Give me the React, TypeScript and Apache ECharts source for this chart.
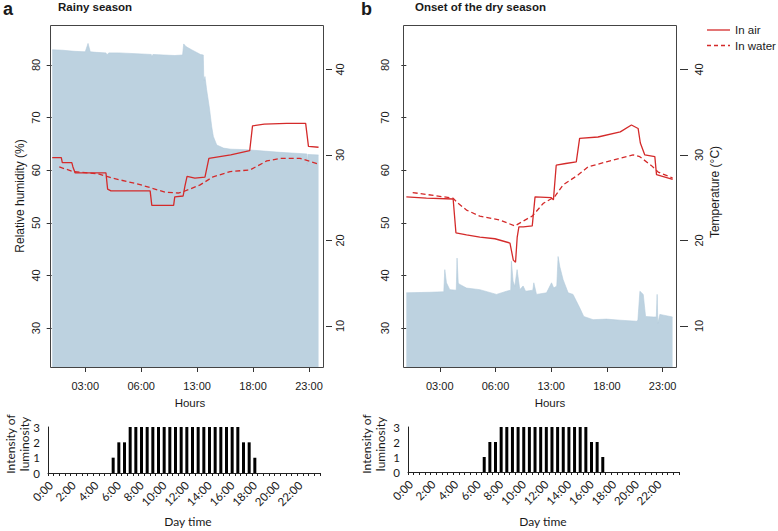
import React, { useEffect, useRef } from 'react';
import * as echarts from 'echarts';

// ---------- data ----------
const hourTicks = [3, 8, 13, 18, 23];
const hourTickLabels = ['03:00', '06:00', '13:00', '18:00', '23:00'];
const rhTicks = [30, 40, 50, 60, 70, 80];
const tempTicks = [10, 20, 30, 40];

// Panel a (rainy season): [hour, value]
const humA: [number, number][] = [
  [0.05, 82.9], [1, 82.8], [2, 82.6], [3.0, 82.5], [3.25, 84.1], [3.45, 82.5], [4, 82.4],
  [4.85, 82.3], [4.95, 81.9], [5.1, 82.3], [6, 82.3], [7, 82.2], [8, 82.1], [8.9, 82.0],
  [8.95, 81.5], [9.05, 82.0], [10, 81.9], [11, 81.8], [11.7, 81.9], [11.8, 84.0], [12.0, 83.5],
  [12.5, 82.9], [13.3, 82.0], [13.55, 81.9], [13.6, 77.0], [13.7, 77.8], [13.85, 75.3],
  [14.1, 71.8], [14.3, 68.3], [14.45, 66.4], [14.75, 64.8], [15.35, 64.2], [16, 64.0],
  [17.4, 63.9], [18, 63.8], [20.4, 63.4], [22.8, 63.1], [22.85, 61.0], [22.9, 63.0], [23.85, 62.9],
];
const airA: [number, number][] = [
  [0.05, 29.7], [0.86, 29.7], [0.95, 29.1], [1.8, 29.1], [1.9, 28.6], [2.1, 27.9], [4.85, 27.9],
  [5.0, 26.0], [5.3, 25.8], [8.8, 25.8], [8.95, 24.1], [10.9, 24.1], [11.0, 25.1], [11.75, 25.2],
  [11.9, 26.3], [12.1, 27.5], [12.8, 27.3], [13.7, 27.4], [14.05, 29.6], [16, 30.0], [17.7, 30.5],
  [17.95, 33.4], [19, 33.6], [21, 33.7], [22.7, 33.7], [22.95, 31.0], [23.85, 30.9],
];
const waterA: [number, number][] = [
  [0.68, 28.6], [1.93, 28.05], [4.16, 27.8], [5.38, 27.3], [7.73, 26.6], [10.14, 25.65],
  [11.3, 25.55], [11.75, 25.7], [13.27, 26.5], [14.43, 27.45], [15.95, 28.05], [17.73, 28.25],
  [19.22, 29.3], [20.41, 29.6], [22.2, 29.6], [23.83, 28.95],
];

// Panel b (onset of the dry season)
const humB: [number, number][] = [
  [0.0, 36.7], [2.1, 36.8], [3.36, 36.9], [3.45, 41.1], [3.6, 38.6], [3.9, 37.3], [4.48, 37.2],
  [4.55, 43.3], [4.66, 38.5], [4.8, 38.3], [5.4, 37.6], [6.59, 37.3], [8.09, 36.4], [8.99, 37.0],
  [9.37, 37.2], [9.43, 42.7], [9.58, 38.9], [9.73, 37.9], [9.94, 41.1], [10.18, 37.3], [10.48, 38.0],
  [10.7, 37.0], [11.35, 37.2], [11.44, 38.6], [11.68, 36.4], [12.58, 36.7], [13.03, 38.6],
  [13.23, 37.6], [13.5, 38.0], [13.62, 43.6], [13.77, 41.7], [14.07, 39.2], [14.52, 36.7],
  [14.96, 36.4], [15.57, 33.8], [15.92, 32.2], [16.76, 31.6], [17.96, 31.7], [19.16, 31.5],
  [20.66, 31.3], [20.78, 31.5], [20.96, 37.0], [21.26, 36.4], [21.47, 32.2], [22.15, 32.1],
  [22.43, 32.1], [22.51, 36.4], [22.57, 30.9], [22.75, 32.6], [23.89, 32.1],
];
const airB: [number, number][] = [
  [0.0, 25.1], [1.8, 24.95], [4.2, 24.85], [4.45, 20.9], [5.4, 20.65], [6.6, 20.4], [7.95, 20.2],
  [9.3, 19.7], [9.6, 17.7], [9.8, 17.45], [9.95, 20.4], [10.1, 21.6], [10.5, 21.6], [11.3, 21.7],
  [11.55, 25.1], [13.0, 25.0], [13.2, 24.75], [13.45, 28.8], [14.3, 29.0], [15.25, 29.2],
  [15.55, 31.95], [17.2, 32.1], [19.2, 32.7], [20.2, 33.5], [20.8, 33.1], [21.0, 31.4], [21.4, 30.0],
  [22.3, 29.8], [22.45, 27.7], [23.9, 27.15],
];
const waterB: [number, number][] = [
  [0.57, 25.6], [4.19, 24.95], [4.64, 24.35], [5.4, 23.55], [6.59, 22.85], [8.38, 22.4],
  [9.73, 21.7], [10.8, 22.5], [11.3, 22.85], [12.3, 24.35], [13.3, 25.1], [14.07, 26.5],
  [15.4, 27.65], [16.3, 28.6], [17.96, 29.2], [19.16, 29.6], [20.35, 30.0], [20.95, 29.8],
  [22.0, 28.75], [22.6, 28.0], [23.9, 27.3],
];

// Luminosity (half-hour classes)
const dayTimes = [
  '0:00', '0:30', '1:00', '1:30', '2:00', '2:30', '3:00', '3:30', '4:00', '4:30', '5:00', '5:30',
  '6:00', '6:30', '7:00', '7:30', '8:00', '8:30', '9:00', '9:30', '10:00', '10:30', '11:00', '11:30',
  '12:00', '12:30', '13:00', '13:30', '14:00', '14:30', '15:00', '15:30', '16:00', '16:30', '17:00', '17:30',
  '18:00', '18:30', '19:00', '19:30', '20:00', '20:30', '21:00', '21:30', '22:00', '22:30', '23:00', '23:30',
];
const lightA = [
  0, 0, 0, 0, 0, 0, 0, 0, 0, 0, 0, 1,
  2, 2, 3, 3, 3, 3, 3, 3, 3, 3, 3, 3,
  3, 3, 3, 3, 3, 3, 3, 3, 3, 3, 2, 2,
  1, 0, 0, 0, 0, 0, 0, 0, 0, 0, 0, 0,
];
const lightB = [
  0, 0, 0, 0, 0, 0, 0, 0, 0, 0, 0, 0,
  0, 1, 2, 2, 3, 3, 3, 3, 3, 3, 3, 3,
  3, 3, 3, 3, 3, 3, 3, 3, 2, 2, 1, 0,
  0, 0, 0, 0, 0, 0, 0, 0, 0, 0, 0, 0,
];

// ---------- styling ----------
const FONT = '"Liberation Sans", Arial, sans-serif';
const FONT2 = 'Lato, "Open Sans", sans-serif';
const RED = '#d42a2a';
const BLUE = '#bdd2e0';
const AX = '#333';
const TXT = '#1a1a1a';

const topX = (gridIndex: number, min: number, max: number) => ({
  type: 'value',
  gridIndex,
  min,
  max,
  axisLine: { show: false },
  splitLine: { show: false },
  axisTick: { show: true, customValues: hourTicks, length: 5, lineStyle: { color: AX } },
  axisLabel: {
    customValues: hourTicks,
    formatter: (v: number) => hourTickLabels[hourTicks.indexOf(v)] ?? '',
    fontSize: 11,
    color: TXT,
    fontFamily: FONT,
    margin: 13,
  },
});

const rhY = (gridIndex: number, margin: number) => ({
  type: 'value',
  gridIndex,
  position: 'left',
  min: 22.6,
  max: 87.6,
  splitLine: { show: false },
  axisLine: { show: false },
  axisTick: { show: true, customValues: rhTicks, length: 5, lineStyle: { color: AX } },
  axisLabel: { customValues: rhTicks, rotate: 90, margin, fontSize: 11, color: TXT, fontFamily: FONT },
});

const tY = (gridIndex: number, offset: number, len: number, margin: number) => ({
  type: 'value',
  gridIndex,
  position: 'right',
  offset,
  min: 5.2,
  max: 45.2,
  splitLine: { show: false },
  axisLine: { show: false },
  axisTick: { show: true, customValues: tempTicks, length: len, lineStyle: { color: AX } },
  axisLabel: { customValues: tempTicks, rotate: 90, margin, fontSize: 11, color: TXT, fontFamily: FONT },
});

const botX = (gridIndex: number) => ({
  type: 'category',
  gridIndex,
  data: dayTimes,
  boundaryGap: true,
  axisLine: { show: true, lineStyle: { color: '#222', width: 1 } },
  axisTick: { show: true, interval: 0, length: 3, alignWithLabel: false, lineStyle: { color: '#222' } },
  axisLabel: { interval: 3, rotate: 45, fontSize: 11.5, color: TXT, fontFamily: FONT2, margin: 10 },
});

const botY = (gridIndex: number) => ({
  type: 'value',
  gridIndex,
  min: 0,
  max: 3,
  interval: 1,
  splitLine: { show: false },
  axisLine: { show: true, lineStyle: { color: '#222', width: 1 } },
  axisTick: { show: false },
  axisLabel: { fontSize: 11.5, color: TXT, fontFamily: FONT2, margin: 8 },
});

const humSeries = (xi: number, yi: number, data: [number, number][]) => ({
  type: 'line',
  xAxisIndex: xi,
  yAxisIndex: yi,
  data,
  showSymbol: false,
  symbol: 'none',
  lineStyle: { width: 0.6, color: '#b3cbdb' },
  areaStyle: { color: BLUE, opacity: 1, origin: 'start' },
  z: 1,
});

const tempSeries = (xi: number, yi: number, data: [number, number][], dashed: boolean) => ({
  type: 'line',
  xAxisIndex: xi,
  yAxisIndex: yi,
  data,
  showSymbol: false,
  symbol: 'none',
  lineStyle: { width: 1.3, color: RED, type: dashed ? [5, 3] : 'solid' },
  z: 3,
});

const txt = (x: number, y: number, text: string, opts: any = {}) => ({
  type: 'text',
  x,
  y,
  rotation: opts.rotation ?? 0,
  z: 50,
  style: {
    text,
    x: 0,
    y: 0,
    fill: TXT,
    font: opts.font ?? `11.5px ${FONT}`,
    align: opts.align ?? 'center',
    verticalAlign: 'middle',
  },
});

const box = (x: number, y: number, w: number, h: number) => ({
  type: 'rect',
  z: 40,
  shape: { x: x + 0.5, y: y + 0.5, width: w, height: h },
  style: { fill: 'none', stroke: '#444', lineWidth: 1 },
});

export default function App() {
  const ref = useRef<HTMLDivElement>(null);

  useEffect(() => {
    if (!ref.current) return;
    const chart = echarts.init(ref.current, undefined, { renderer: 'svg' });
    const option: any = {
      animation: false,
      backgroundColor: '#fff',
      grid: [
        { left: 50, top: 25, width: 273, height: 342 },
        { left: 403, top: 25, width: 273, height: 342 },
        { left: 48, top: 427, width: 272, height: 46 },
        { left: 408, top: 427, width: 271, height: 45 },
      ],
      xAxis: [topX(0, -0.15, 24.25), topX(1, -0.3, 24.2), botX(2), botX(3)],
      yAxis: [
        rhY(0, 9),
        tY(0, 3, 6, 8),
        rhY(1, 13),
        tY(1, 4, 8, 13),
        botY(2),
        botY(3),
      ],
      series: [
        humSeries(0, 0, humA),
        tempSeries(0, 1, airA, false),
        tempSeries(0, 1, waterA, true),
        humSeries(1, 2, humB),
        tempSeries(1, 3, airB, false),
        tempSeries(1, 3, waterB, true),
        { type: 'bar', xAxisIndex: 2, yAxisIndex: 4, data: lightA, barWidth: 3, itemStyle: { color: '#000' } },
        { type: 'bar', xAxisIndex: 3, yAxisIndex: 5, data: lightB, barWidth: 3, itemStyle: { color: '#000' } },
      ],
      graphic: [
        box(50, 25, 273, 342),
        box(403, 25, 273, 342),
        txt(3, 9, 'a', { align: 'left', font: `bold 18px ${FONT}` }),
        txt(361, 9, 'b', { align: 'left', font: `bold 18px ${FONT}` }),
        txt(58, 7, 'Rainy season', { align: 'left', font: `bold 11.5px ${FONT}` }),
        txt(415, 7, 'Onset of the dry season', { align: 'left', font: `bold 11.5px ${FONT}` }),
        { type: 'line', z: 50, shape: { x1: 707, y1: 30, x2: 730, y2: 30 }, style: { stroke: RED, lineWidth: 1.3 } },
        { type: 'line', z: 50, shape: { x1: 707, y1: 45.5, x2: 730, y2: 45.5 }, style: { stroke: RED, lineWidth: 1.3, lineDash: [4, 3] } },
        txt(735, 30, 'In air', { align: 'left', font: `11.5px ${FONT}` }),
        txt(735, 45.5, 'In water', { align: 'left', font: `11.5px ${FONT}` }),
        txt(20, 196, 'Relative humidity (%)', { rotation: Math.PI / 2, font: `12px ${FONT}` }),
        txt(715, 192, 'Temperature (°C)', { rotation: Math.PI / 2, font: `12px ${FONT}` }),
        txt(190, 403, 'Hours', { font: `11.5px ${FONT}` }),
        txt(550, 403, 'Hours', { font: `11.5px ${FONT}` }),
        txt(10, 444, 'Intensity of', { rotation: Math.PI / 2, font: `12px ${FONT2}` }),
        txt(24, 444, 'luminosity', { rotation: Math.PI / 2, font: `12px ${FONT2}` }),
        txt(366, 444, 'Intensity of', { rotation: Math.PI / 2, font: `12px ${FONT2}` }),
        txt(380, 444, 'luminosity', { rotation: Math.PI / 2, font: `12px ${FONT2}` }),
        txt(188, 521, 'Day time', { font: `12px ${FONT2}` }),
        txt(543, 521, 'Day time', { font: `12px ${FONT2}` }),
      ],
    };
    chart.setOption(option);
    return () => chart.dispose();
  }, []);

  return (
    <div
      ref={ref}
      style={{ position: 'fixed', left: 0, top: 0, width: 778, height: 531, background: '#fff' }}
    />
  );
}
